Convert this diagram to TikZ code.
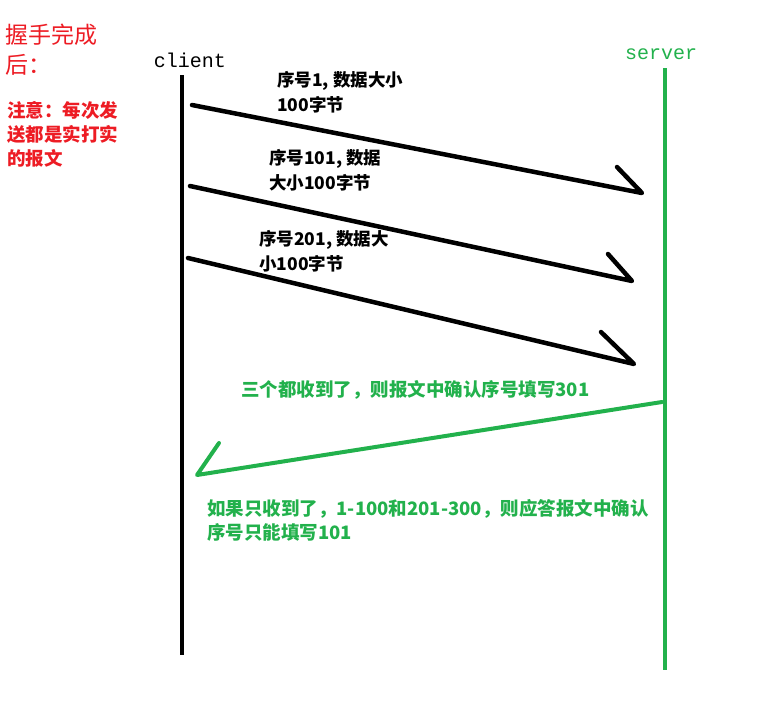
\documentclass[tikz,border=0pt]{standalone}
\usepackage{fontspec}
\setmainfont{Noto Sans CJK SC}
\setmonofont{Liberation Mono}
\definecolor{pred}{HTML}{ED1C24}
\definecolor{pgreen}{HTML}{22B14C}
\tikzstyle{lifeline} = [line width=4pt]
\tikzstyle{msg} = [line width=4.5pt, line cap=round, line join=round]
\tikzstyle{ack} = [msg, draw=pgreen, line width=4pt]
\tikzstyle{plabel} = [anchor=base west, inner sep=0pt, align=left, font=\fontsize{17.5}{24.5}\selectfont\bfseries]
\tikzstyle{pack} = [plabel, text=pgreen, font=\fontsize{18.5}{24}\selectfont\bfseries]
\tikzstyle{pname} = [anchor=base, inner sep=0pt, font=\ttfamily\fontsize{20}{20}\selectfont]
\tikzstyle{pnote} = [anchor=base west, inner sep=0pt, align=left, text=pred]

\begin{document}
\begin{tikzpicture}[x=1pt, y=-1pt]
\useasboundingbox (0,0) rectangle (763,723);
% notes on the left
\node (title) [pnote, font=\fontsize{23}{30}\selectfont] at (5,73) {握手完成\\后：};
\node (note) [pnote, font=\fontsize{18.5}{24}\selectfont\bfseries] at (7,165) {注意：每次发\\送都是实打实\\的报文};
% the two ends
\node (client) [pname] at (190,67) {client};
\node (server) [pname, text=pgreen] at (661,59) {server};
\coordinate (cTop) at (182,75);
\coordinate (cBot) at (182,655);
\coordinate (sTop) at (665,68);
\coordinate (sBot) at (665,670);
\draw [lifeline] (cTop) -- (cBot);
\draw [lifeline, pgreen] (sTop) -- (sBot);
% data segments
\coordinate (a1) at (192,105);
\coordinate (b1) at (642,193);
\coordinate (h1) at (617,167);
\coordinate (a2) at (190,186);
\coordinate (b2) at (632,281);
\coordinate (h2) at (608,254);
\coordinate (a3) at (188,258);
\coordinate (b3) at (634,364);
\coordinate (h3) at (601,332);
\draw [msg] (a1) -- (b1) -- (h1);
\draw [msg] (a2) -- (b2) -- (h2);
\draw [msg] (a3) -- (b3) -- (h3);
\node (seg1) [plabel] at (277,111) {序号1, 数据大小\\100字节};
\node (seg2) [plabel] at (269,189) {序号101, 数据\\大小100字节};
\node (seg3) [plabel] at (259,270) {序号201, 数据大\\小100字节};
% acknowledgement
\coordinate (a4) at (662,402);
\coordinate (b4) at (197,475);
\coordinate (h4) at (219,443);
\draw [ack] (a4) -- (b4) -- (h4);
\node (ack1) [pack] at (241,396) {三个都收到了，则报文中确认序号填写301};
\node (ack2) [pack] at (207,539) {如果只收到了，1-100和201-300，则应答报文中确认\\序号只能填写101};
\end{tikzpicture}
\end{document}
